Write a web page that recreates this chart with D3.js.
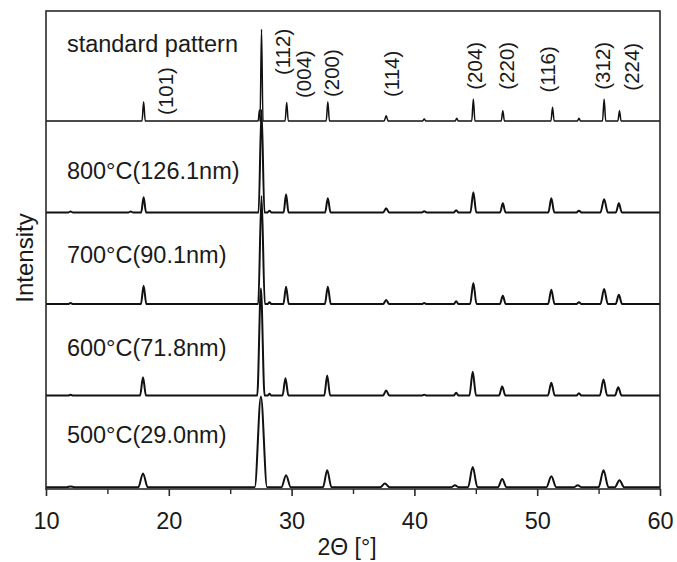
<!DOCTYPE html>
<html>
<head>
<meta charset="utf-8">
<script src="https://cdn.jsdelivr.net/npm/d3@7"></script>
<style>
  html, body { margin: 0; padding: 0; background: #fff; }
  svg { display: block; }
  text { font-family: "Liberation Sans", Arial, sans-serif; fill: #1a1a1a; }
</style>
</head>
<body>
<svg id="chart" width="677" height="562"></svg>
<script>
// ---------------- data ----------------
const xTicks = [10, 20, 30, 40, 50, 60];
const xMinorTicks = [15, 25, 35, 45, 55];

// series, bottom to top
const seriesNames = ["500\u00B0C(29.0nm)", "600\u00B0C(71.8nm)", "700\u00B0C(90.1nm)", "800\u00B0C(126.1nm)", "standard pattern"];
const seriesOffsets = [0.02, 1.02, 2.02, 3.02, 4.02];
const labelLift = [0.48, 0.43, 0.45, 0.36, 0.75];

// peaks: [2theta, intensity above baseline, half width at base]
const peaks500 = [
  [12.0, 0.008, 0.3], [17.9, 0.15, 0.38], [27.5, 0.99, 0.5], [29.55, 0.13, 0.38], [32.9, 0.185, 0.34],
  [37.6, 0.04, 0.38], [43.3, 0.02, 0.3], [44.75, 0.22, 0.38], [47.15, 0.09, 0.35], [51.15, 0.12, 0.4],
  [53.3, 0.02, 0.3], [55.4, 0.185, 0.4], [56.7, 0.075, 0.38]
];
const peaks600 = [
  [12.0, 0.008, 0.2], [17.9, 0.2, 0.24], [27.5, 1.17, 0.3], [28.2, 0.02, 0.15], [29.5, 0.19, 0.24], [32.9, 0.22, 0.24],
  [37.7, 0.055, 0.26], [40.8, 0.01, 0.2], [43.4, 0.03, 0.2], [44.75, 0.26, 0.27], [47.15, 0.1, 0.26], [51.15, 0.14, 0.28],
  [53.4, 0.025, 0.2], [55.4, 0.175, 0.3], [56.6, 0.09, 0.27]
];
const peaks700 = [
  [12.0, 0.01, 0.2], [17.95, 0.2, 0.22], [27.55, 1.18, 0.27], [28.2, 0.02, 0.15], [29.55, 0.19, 0.22], [32.95, 0.19, 0.24],
  [37.7, 0.045, 0.24], [40.8, 0.01, 0.2], [43.4, 0.03, 0.2], [44.8, 0.23, 0.26], [47.2, 0.09, 0.24], [51.15, 0.155, 0.26],
  [53.4, 0.02, 0.2], [55.45, 0.165, 0.3], [56.65, 0.1, 0.26]
];
const peaks800 = [
  [12.0, 0.01, 0.2], [16.9, 0.01, 0.2], [17.95, 0.165, 0.2], [27.55, 1.12, 0.24], [28.2, 0.02, 0.15], [29.55, 0.2, 0.2],
  [32.95, 0.155, 0.22], [37.7, 0.045, 0.24], [40.8, 0.012, 0.2], [43.4, 0.025, 0.2], [44.8, 0.22, 0.24], [47.2, 0.1, 0.22],
  [51.15, 0.155, 0.24], [53.4, 0.02, 0.2], [55.45, 0.145, 0.3], [56.65, 0.1, 0.24]
];
const peaksStandard = [
  [17.95, 0.21, 0.13], [27.38, 0.12, 0.1], [27.55, 1.0, 0.12], [29.6, 0.2, 0.13], [32.95, 0.21, 0.13],
  [37.7, 0.055, 0.16], [40.8, 0.02, 0.12], [43.45, 0.03, 0.12], [44.8, 0.24, 0.13], [47.2, 0.11, 0.13],
  [51.25, 0.15, 0.13], [53.4, 0.03, 0.12], [55.45, 0.24, 0.13], [56.7, 0.11, 0.13]
];
const seriesPeaks = [peaks500, peaks600, peaks700, peaks800, peaksStandard];
const seriesStroke = [2, 2, 2, 2, 1.5];

// Miller index labels on the standard pattern
const millerLabels = ["(101)", "(112)", "(004)", "(200)", "(114)", "(204)", "(220)", "(116)", "(312)", "(224)"];
const millerPos = [19.75, 29.27, 31.01, 33.27, 38.2, 44.93, 47.52, 50.9, 55.38, 57.7];
const millerLift = [0.065, 0.5, 0.25, 0.26, 0.26, 0.34, 0.34, 0.31, 0.34, 0.33];

// ---------------- layout ----------------
const svg = d3.select("#chart");
const margin = { left: 46, right: 17, top: 11, bottom: 73 };
const W = 677, H = 562;
const x = d3.scaleLinear().domain([10, 60]).range([margin.left, W - margin.right]);
const y = d3.scaleLinear().domain([0, 5.22]).range([H - margin.bottom, margin.top]);

// build each trace's vertices from its peak list
function traceVertices(peaks, offset) {
  const pts = [[10, offset]];
  peaks.slice().sort((a, b) => a[0] - b[0]).forEach(([p, h, w]) => {
    pts.push([p - w, offset], [p, offset + h], [p + w, offset]);
  });
  pts.push([60, offset]);
  return pts;
}

const line = d3.line()
  .x(d => x(d[0]))
  .y(d => y(d[1]))
  .curve(d3.curveMonotoneX);

const g = svg.append("g");

seriesPeaks.forEach((pk, i) => {
  g.append("path")
    .datum(traceVertices(pk, seriesOffsets[i]))
    .attr("d", line)
    .attr("fill", "none")
    .attr("stroke", "#111")
    .attr("stroke-width", seriesStroke[i])
    .attr("stroke-linejoin", "round");

  g.append("text")
    .attr("x", x(11.7))
    .attr("y", y(seriesOffsets[i] + labelLift[i]))
    .attr("font-size", 23.5)
    .text(seriesNames[i]);
});

// miller labels
millerLabels.forEach((lab, i) => {
  g.append("text")
    .attr("transform", `translate(${x(millerPos[i])},${y(seriesOffsets[4] + millerLift[i])}) rotate(-90)`)
    .attr("dy", "0.35em")
    .attr("font-size", 20.5)
    .text(lab);
});

// frame
svg.append("rect")
  .attr("x", x(10)).attr("y", margin.top)
  .attr("width", x(60) - x(10)).attr("height", H - margin.bottom - margin.top)
  .attr("fill", "none").attr("stroke", "#2a2a2a").attr("stroke-width", 1.6);

// x axis
const xAxis = svg.append("g")
  .attr("transform", `translate(0,${H - margin.bottom})`)
  .call(d3.axisBottom(x).tickValues(xTicks).tickSize(7).tickPadding(16).tickFormat(d3.format("d")));
xAxis.select(".domain").remove();
xAxis.selectAll(".tick line").attr("stroke", "#2a2a2a").attr("stroke-width", 1.6);
xAxis.selectAll(".tick text")
  .attr("font-size", 23.5)
  .attr("font-family", "Liberation Sans, Arial, sans-serif")
  .attr("fill", "#1a1a1a");

const xMinor = svg.append("g")
  .attr("transform", `translate(0,${H - margin.bottom})`)
  .call(d3.axisBottom(x).tickValues(xMinorTicks).tickSize(5).tickFormat(""));
xMinor.select(".domain").remove();
xMinor.selectAll(".tick line").attr("stroke", "#2a2a2a").attr("stroke-width", 1.4);

// axis titles
svg.append("text")
  .attr("x", (x(10) + x(60)) / 2 - 6)
  .attr("y", 555)
  .attr("text-anchor", "middle")
  .attr("font-size", 23)
  .text("2\u0398 [\u00B0]");

svg.append("text")
  .attr("transform", `translate(33,258) rotate(-90)`)
  .attr("text-anchor", "middle")
  .attr("font-size", 24)
  .text("Intensity");
</script>
</body>
</html>
